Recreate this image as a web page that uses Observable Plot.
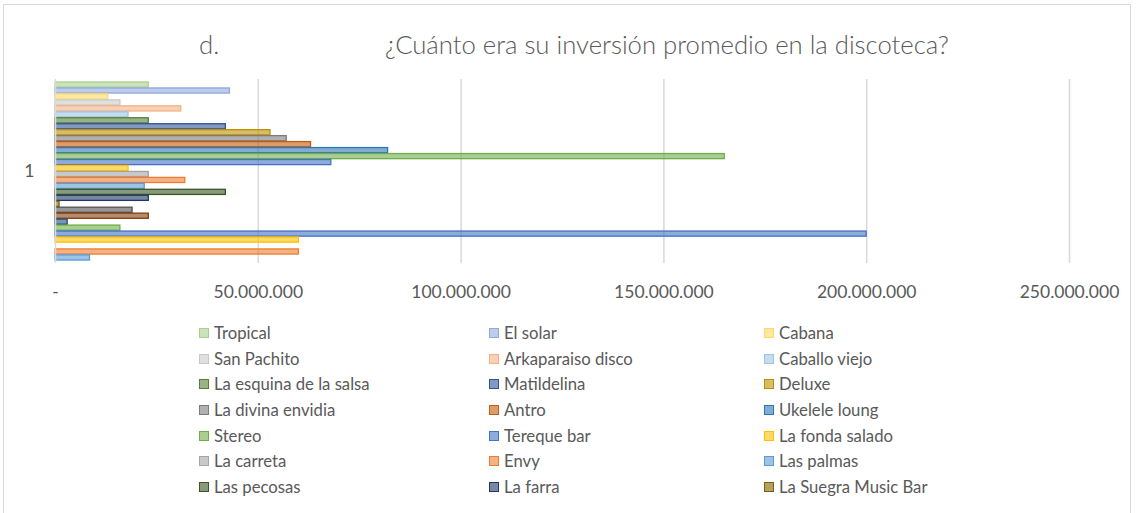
<!DOCTYPE html>
<html><head><meta charset="utf-8">
<script src="https://cdn.jsdelivr.net/npm/d3@7"></script>
<script src="https://cdn.jsdelivr.net/npm/@observablehq/plot@0.6"></script>
<style>
body{margin:0;background:#fff;font-family:Lato,"Open Sans",sans-serif;}
#wrap{position:relative;width:1137px;height:513px;overflow:hidden;background:#fff}
#frame{position:absolute;left:3px;top:4px;width:1128px;height:530px;border:1px solid #d9d9d9;box-sizing:border-box}
#chart{position:absolute;left:0;top:0}
.title{position:absolute;top:29px;font-size:25.7px;font-weight:300;color:#595959;line-height:30px;white-space:nowrap}
.item{position:absolute;display:flex;align-items:center;font-size:16.7px;color:#595959;white-space:nowrap;height:20px;line-height:20px}
.sw{width:10px;height:10px;border:1.5px solid;margin-right:5px;box-sizing:border-box;flex:none}
</style></head>
<body>
<div id="wrap">
  <div id="frame"></div>
  <div class="title" style="left:199px">d.</div>
  <div class="title" style="left:385px">¿Cuánto era su inversión promedio en la discoteca?</div>
  <div id="chart"></div>
  <div id="legend"></div>
</div>
<script>
const categories = ["1"];
const series = ["Tropical","El solar","Cabana","San Pachito","Arkaparaiso disco","Caballo viejo",
  "La esquina de la salsa","Matildelina","Deluxe","La divina envidia","Antro","Ukelele loung",
  "Stereo","Tereque bar","La fonda salado","La carreta","Envy","Las palmas",
  "Las pecosas","La farra","La Suegra Music Bar",
  "Serie 22","Serie 23","Serie 24","Serie 25","Serie 26","Serie 27","Serie 28","Serie 29","Serie 30"];
const values = [23e6,43e6,13e6,16e6,31e6,18e6,
  23e6,42e6,53e6,57e6,63e6,82e6,
  165e6,68e6,18e6,23e6,32e6,22e6,
  42e6,23e6,1e6,
  19e6,23e6,3e6,16e6,200e6,60e6,0,60e6,8.5e6];
const colors = ["#A9D18E","#8FAADC","#FFD966","#C9C9C9","#F4B183","#9DC3E6",
  "#548235","#2F5597","#BF9000","#7B7B7B","#C55A11","#2E75B6",
  "#70AD47","#4472C4","#FFC000","#A5A5A5","#ED7D31","#5B9BD5",
  "#385723","#203864","#7F6000",
  "#525252","#843C0C","#1F4E79","#70AD47","#4472C4","#FFC000","#A5A5A5","#ED7D31","#5B9BD5"];
const tickValues = [0,50e6,100e6,150e6,200e6,250e6];
const legendCount = 21;

const rows = series.map((s,i)=>({cat: categories[0], serie: s, value: values[i]}));
const fmt = d => d === 0 ? "-" : d3.format(",")(d).replace(/,/g,".");

const chart = Plot.plot({
  width: 1137, height: 310,
  marginLeft: 55, marginRight: 68, marginTop: 79, marginBottom: 47,
  style: {fontFamily: "Lato, 'Open Sans', sans-serif", fontSize: "17.5px", color: "#595959", background: "transparent"},
  x: {domain: [0, 250e6], ticks: tickValues, tickFormat: fmt, tickSize: 0, tickPadding: 22, label: null},
  y: {domain: series, axis: null, round: false, paddingInner: 0.14, paddingOuter: 0.5},
  color: {domain: series, range: colors},
  marks: [
    Plot.ruleX(tickValues.slice(1), {stroke: "#d9d9d9", strokeWidth: 1.5, strokeOpacity: 1}),
    Plot.barX(rows, {filter: d => d.value > 0, x: "value", y: "serie",
      fill: "serie", stroke: "serie", fillOpacity: 0.6, strokeWidth: 1.3}),
    Plot.ruleX([0], {stroke: "#d9d9d9", strokeWidth: 1.5, strokeOpacity: 1}),
    Plot.text(categories, {text: d => d, frameAnchor: "left", dx: -21, textAnchor: "end", fill: "#595959"})
  ]
});
document.getElementById("chart").appendChild(chart);

const legend = d3.select("#legend");
const colX = [199, 489, 764];
series.slice(0, legendCount).forEach((s, i) => {
  const r = Math.floor(i / 3), c = i % 3;
  const it = legend.append("div").attr("class", "item")
    .style("left", colX[c] + "px").style("top", (323 + r * 25.67) + "px");
  it.append("div").attr("class", "sw")
    .style("border-color", colors[i])
    .style("background", d3.color(colors[i]).copy({opacity: 0.6}).toString());
  it.append("span").text(s);
});
</script>
</body></html>
